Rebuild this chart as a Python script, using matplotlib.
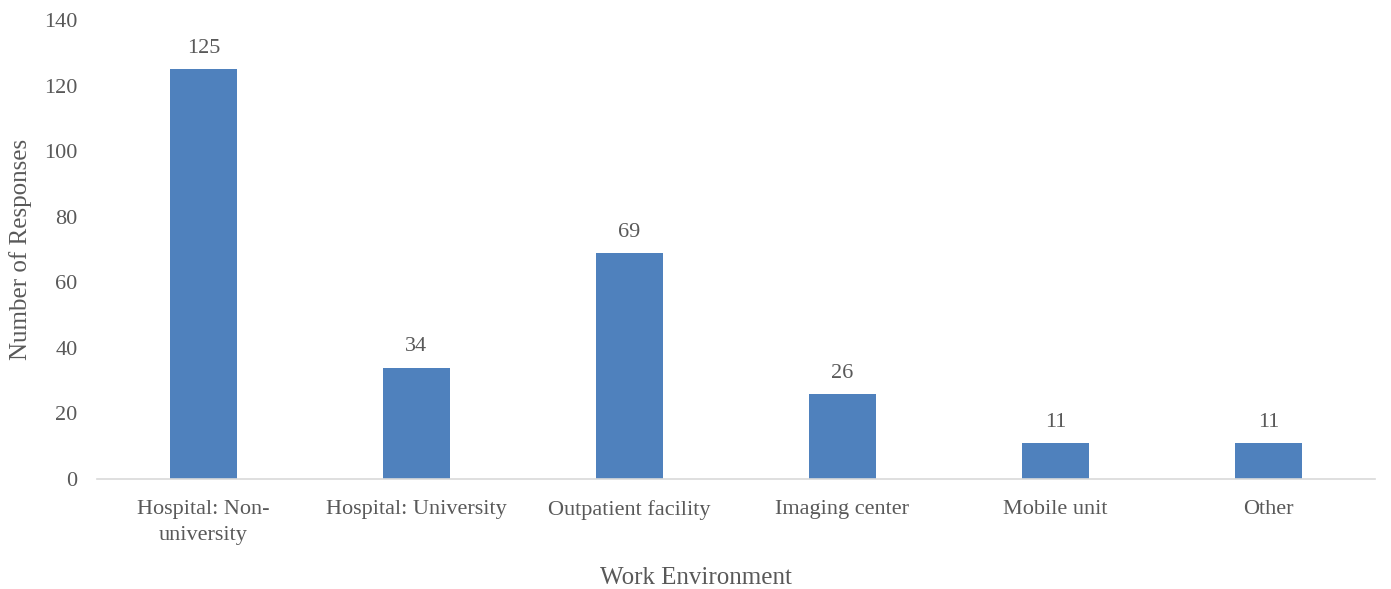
import matplotlib
matplotlib.use("Agg")
import matplotlib.pyplot as plt

# Veriler
categories = ["Hospital: Non-\nuniversity", "Hospital: University", "Outpatient facility",
              "Imaging center", "Mobile unit", "Other"]
responses = [125, 34, 69, 26, 11, 11]
y_ticks = [0, 20, 40, 60, 80, 100, 120, 140]

plt.rcParams['font.family'] = ['Liberation Serif', 'DejaVu Serif']
TEXT = '#595959'
BAR = '#4F81BD'

fig = plt.figure(figsize=(13.91, 5.89), dpi=100)
ax = fig.add_axes([0.0697, 0.1868, 0.9188, 0.7792])

x = range(len(categories))
bars = ax.bar(x, responses, width=0.315, color=BAR)
for b, v in zip(bars, responses):
    ax.annotate(str(v), (b.get_x() + b.get_width() / 2, v), xytext=(0, 8),
                textcoords='offset points', ha='center', va='bottom',
                fontsize=16, color=TEXT)

ax.set_xlim(-0.5, len(categories) - 0.5)
ax.set_ylim(0, 140)
ax.set_yticks(y_ticks)
ax.set_xticks(list(x))
ax.set_xticklabels(categories, linespacing=1.5, va='top')
ax.tick_params(axis='both', length=0, labelsize=16, labelcolor=TEXT)
ax.tick_params(axis='y', pad=14)
ax.tick_params(axis='x', pad=15)

for s in ['top', 'right', 'left']:
    ax.spines[s].set_visible(False)
ax.spines['bottom'].set_color('#D9D9D9')
ax.spines['bottom'].set_linewidth(1.2)

# x ekseni başlığı figürün ortasında
fig.text(0.5, 0.0, 'Work Environment', fontsize=18, color=TEXT,
         ha='center', va='bottom')
ax.set_ylabel('Number of Responses', fontsize=18, color=TEXT, labelpad=9)

fig.savefig('out.png', dpi=100)
